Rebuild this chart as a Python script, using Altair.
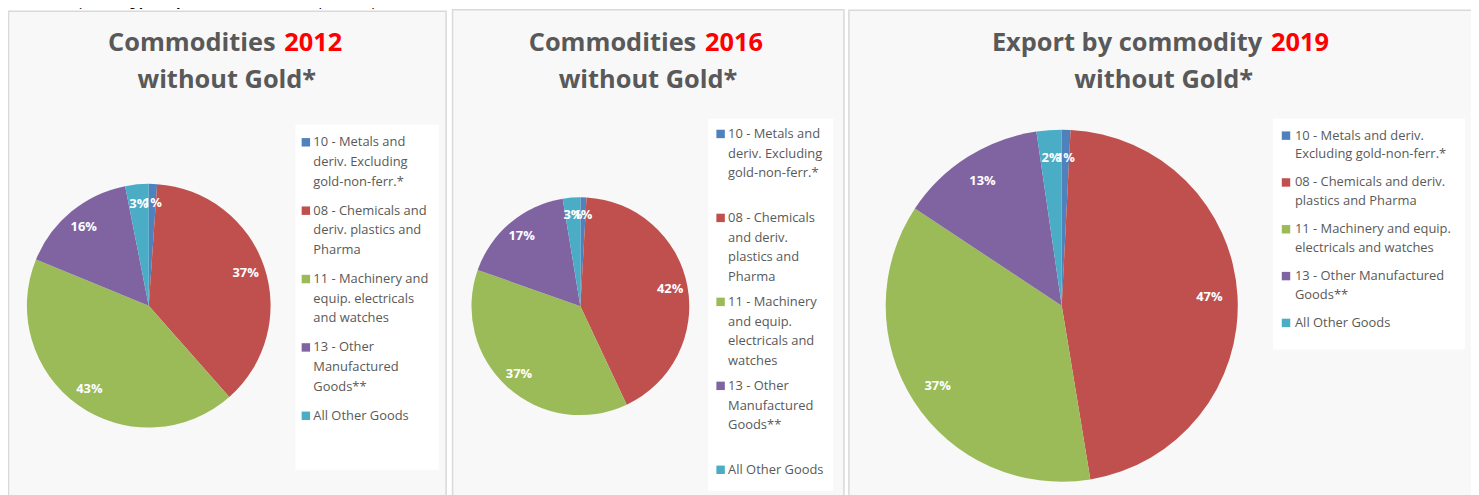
import altair as alt
import pandas as pd

# ---------------- data ----------------
categories = [
    "10 - Metals and deriv. Excluding gold-non-ferr.*",
    "08 - Chemicals and deriv. plastics  and Pharma",
    "11 - Machinery and equip. electricals and watches",
    "13 - Other Manufactured Goods**",
    "All Other Goods",
]
colors = ["#4f81bd", "#c0504d", "#9bbb59", "#8064a2", "#4bacc6"]

values_2012 = [1.1, 37.4, 42.7, 15.7, 3.1]
values_2016 = [0.9, 42.1, 37.4, 17.0, 2.6]
values_2019 = [0.8, 46.6, 36.9, 13.4, 2.3]

legend_2012 = [
    "10 - Metals and\nderiv. Excluding\ngold-non-ferr.*",
    "08 - Chemicals and\nderiv. plastics  and\nPharma",
    "11 - Machinery and\nequip. electricals\nand watches",
    "13 - Other\nManufactured\nGoods**",
    "All Other Goods",
]
legend_2016 = [
    "10 - Metals and\nderiv. Excluding\ngold-non-ferr.*",
    "08 - Chemicals\nand deriv.\nplastics  and\nPharma",
    "11 - Machinery\nand equip.\nelectricals and\nwatches",
    "13 - Other\nManufactured\nGoods**",
    "All Other Goods",
]
legend_2019 = [
    "10 - Metals and deriv.\nExcluding gold-non-ferr.*",
    "08 - Chemicals and deriv.\nplastics  and Pharma",
    "11 - Machinery and equip.\nelectricals and watches",
    "13 - Other Manufactured\nGoods**",
    "All Other Goods",
]

title_first = ["Commodities", "Commodities", "Export by commodity"]
title_year = ["2012", "2016", "2019"]
title_second = ["without Gold*", "without Gold*", "without Gold*"]
top_note = "(including jewelry, furniture and related products)"

years = ["2012", "2016", "2019"]
all_values = [values_2012, values_2016, values_2019]
all_legends = [legend_2012, legend_2016, legend_2019]

rows = []
for yr, vals, legs in zip(years, all_values, all_legends):
    for i, (c, v, l) in enumerate(zip(categories, vals, legs)):
        rows.append({"year": yr, "category": c, "order": i, "value": v,
                     "pct": v / 100.0, "legend": l})
df = pd.DataFrame(rows)
one = pd.DataFrame({"k": [0]})

# ---------------- layout (chart pixel coords) ----------------
layout = [
    dict(box=(0.5, 440.5, 2, 500), lbox=(289, 433, 116, 463), cx=141.5, cy=298, r=122.5,
         sx=299.5, tx=307, ly=(133.7, 408.7), lh=19.8, t1=(269, 277.7, 33.7), t2=(220, 70)),
    dict(box=(447, 840.5, 0.5, 500), lbox=(704, 830, 110, 484), cx=575.5, cy=298.5, r=109.5,
         sx=716.5, tx=724, ly=(125.3, 463.0), lh=19.8, t1=(692, 700.7, 33.7), t2=(643.5, 70)),
    dict(box=(845.5, 1480, 1, 500), lbox=(1272, 1465, 110, 342), cx=1059.5, cy=298, r=177,
         sx=1285, tx=1294, ly=(127, 315.3), lh=18.6, t1=(1261, 1270, 33.7), t2=(1162, 70)),
]

FONT = "Open Sans"
GRAY = "#595959"

color_scale = alt.Scale(domain=categories, range=colors)

layers = []
for p, yr, t1txt, tytxt, t2txt in zip(layout, years, title_first, title_year, title_second):
    base = alt.Chart(df).transform_filter(alt.datum.year == yr)
    x0, x1, y0, y1 = p["box"]
    layers.append(
        alt.Chart(one).mark_rect(fill="#f8f8f8", stroke="#d9d9d9", strokeWidth=1.5).encode(
            x=alt.value(x0), x2=alt.value(x1), y=alt.value(y0), y2=alt.value(y1))
    )
    lx0, lx1, ly0, ly1 = p["lbox"]
    layers.append(
        alt.Chart(one).mark_rect(fill="#ffffff").encode(
            x=alt.value(lx0), x2=alt.value(lx1), y=alt.value(ly0), y2=alt.value(ly1))
    )
    # titles
    tx_r, tx_l, ty = p["t1"]
    layers.append(
        alt.Chart(one).mark_text(font=FONT, fontSize=25.5, fontWeight="bold", color=GRAY,
                                 align="right", baseline="middle").encode(
            x=alt.value(tx_r), y=alt.value(ty), text=alt.value(t1txt))
    )
    layers.append(
        alt.Chart(one).mark_text(font=FONT, fontSize=25.5, fontWeight="bold", color="#ff0000",
                                 align="left", baseline="middle").encode(
            x=alt.value(tx_l), y=alt.value(ty), text=alt.value(tytxt))
    )
    layers.append(
        alt.Chart(one).mark_text(font=FONT, fontSize=25.5, fontWeight="bold", color=GRAY,
                                 align="center", baseline="middle").encode(
            x=alt.value(p["t2"][0]), y=alt.value(p["t2"][1] + 1), text=alt.value(t2txt))
    )
    # pie
    theta = alt.Theta("value:Q", stack=True)
    layers.append(
        base.mark_arc(outerRadius=p["r"]).encode(
            theta=theta,
            color=alt.Color("category:N", scale=color_scale, legend=None),
            order=alt.Order("order:Q"),
            x=alt.value(p["cx"]), y=alt.value(p["cy"]),
        )
    )
    layers.append(
        base.mark_text(radius=p["r"] * 0.84, font=FONT, fontSize=13, fontWeight="bold",
                       color="white").encode(
            theta=theta,
            order=alt.Order("order:Q"),
            text=alt.Text("pct:Q", format=".0%"),
            x=alt.value(p["cx"]), y=alt.value(p["cy"]),
        )
    )
    # legend
    yscale = alt.Scale(type="point", domain=categories, range=list(p["ly"]), padding=0)
    layers.append(
        base.mark_square(size=72, opacity=1).encode(
            x=alt.value(p["sx"]),
            y=alt.Y("category:N", scale=yscale, axis=None),
            color=alt.Color("category:N", scale=color_scale, legend=None),
        )
    )
    layers.append(
        base.mark_text(font=FONT, fontSize=13, color=GRAY, align="left", baseline="top",
                       dy=-6, lineBreak="\n", lineHeight=p["lh"]).encode(
            x=alt.value(p["tx"]),
            y=alt.Y("category:N", scale=yscale, axis=None),
            text="legend:N",
        )
    )

layers.append(
    alt.Chart(one).mark_text(font="Liberation Sans", fontSize=14, color="#000000",
                             align="center", baseline="alphabetic").encode(
        x=alt.value(220), y=alt.value(-3), text=alt.value(top_note))
)

chart = alt.layer(*layers).resolve_scale(y="independent", theta="independent").properties(
    width=1471, height=487, padding=0, autosize=alt.AutoSizeParams(type="none")
).configure_view(stroke=None)

chart.save("out.html", embed_options={"renderer": "svg", "actions": False})
